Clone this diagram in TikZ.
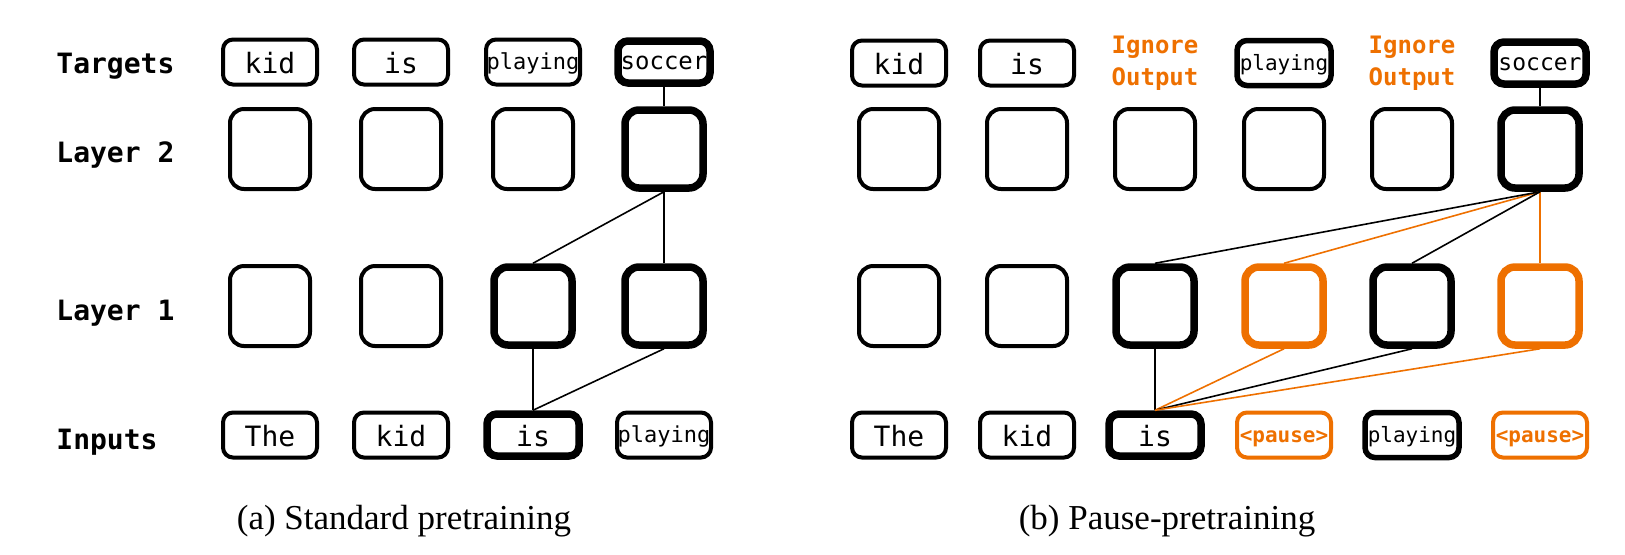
\documentclass[tikz,border=0pt]{standalone}
\usepackage{fontspec}
\setmainfont{Liberation Serif}
\setmonofont{DejaVu Sans Mono}
\usepackage{xcolor}
\usetikzlibrary{positioning}

\definecolor{pauseorange}{RGB}{238,112,0}
\newcommand{\tokbig}{\ttfamily\fontsize{14}{16}\selectfont}
\newcommand{\toksmall}{\ttfamily\fontsize{11}{13}\selectfont}
\newcommand{\toktiny}{\ttfamily\fontsize{10.5}{12}\selectfont}
\newcommand{\rowfont}{\ttfamily\bfseries\fontsize{14}{16}\selectfont}

\begin{document}
\begin{tikzpicture}[
    x=0.5pt, y=-0.5pt,
    base/.style={draw, line width=2pt, inner sep=0pt},
    token/.style={base, rounded corners=5pt, minimum width=47pt, minimum height=22.5pt,
                  font=\tokbig, text height=11pt, text depth=0pt},
    tokensm/.style={token, font=\toksmall, text height=7.5pt, text depth=0.5pt},
    tokenhl/.style={token, line width=3.75pt, minimum width=46pt, minimum height=21pt},
    cell/.style={base, rounded corners=7pt, minimum width=40pt, minimum height=40pt},
    cellhl/.style={cell, line width=3.75pt, minimum width=39pt, minimum height=39pt},
    pausecell/.style={cellhl, draw=pauseorange},
    pausetok/.style={token, draw=pauseorange, text=pauseorange,
                     font=\toktiny\bfseries, text height=7.5pt, text depth=0.5pt},
    ignore/.style={text=pauseorange, align=center, font=\ttfamily\bfseries\fontsize{12}{16}\selectfont},
    rowlabel/.style={anchor=base west, font=\rowfont, inner sep=0pt},
    caption/.style={anchor=base, font=\fontsize{17.5}{20}\selectfont, inner sep=0pt},
    link/.style={line width=0.8pt},
    pauselink/.style={link, draw=pauseorange}
]
    \useasboundingbox (0,0) rectangle (1625,554);

    % Row labels
    \node [rowlabel] (lbl-tgt) at (56,73) {Targets};
    \node [rowlabel] (lbl-l2) at (56,162) {Layer 2};
    \node [rowlabel] (lbl-l1) at (56,320) {Layer 1};
    \node [rowlabel] (lbl-in) at (56,449) {Inputs};

    % (a) Standard pretraining
    \node [token] (a-t1) at (270,62) {kid};
    \node [token] (a-t2) at (401,62) {is};
    \node [tokensm] (a-t3) at (533,62) {playing};
    \node [tokenhl, font=\ttfamily\fontsize{12}{14}\selectfont, text height=8pt, text depth=0.5pt] (a-t4) at (664,62) {soccer};

    \node [cell] (a-u1) at (270,149) {};
    \node [cell] (a-u2) at (401,149) {};
    \node [cell] (a-u3) at (533,149) {};
    \node [cellhl] (a-u4) at (664,149) {};

    \node [cell] (a-m1) at (270,306) {};
    \node [cell] (a-m2) at (401,306) {};
    \node [cellhl] (a-m3) at (533,306) {};
    \node [cellhl] (a-m4) at (664,306) {};

    \node [token] (a-i1) at (270,435) {The};
    \node [token] (a-i2) at (401,435) {kid};
    \node [tokenhl] (a-i3) at (533,435) {is};
    \node [tokensm] (a-i4) at (664,435) {playing};

    \draw [link] (a-t4.south) -- (a-u4.north);
    \draw [link] (a-u4.south) -- (a-m3.north);
    \draw [link] (a-u4.south) -- (a-m4.north);
    \draw [link] (a-m3.south) -- (a-i3.north);
    \draw [link] (a-m4.south) -- (a-i3.north);

    % (b) Pause-pretraining
    \node [token] (b-t1) at (899,63) {kid};
    \node [token] (b-t2) at (1027,63) {is};
    \node [ignore] (b-t3) at (1155,63) {Ignore\\Output};
    \node [tokensm, line width=2.75pt, font=\toktiny] (b-t4) at (1284,63) {playing};
    \node [ignore] (b-t5) at (1412,63) {Ignore\\Output};
    \node [tokenhl, font=\ttfamily\fontsize{11.5}{14}\selectfont, text height=8pt, text depth=0.5pt] (b-t6) at (1540,63) {soccer};

    \node [cell] (b-u1) at (899,149) {};
    \node [cell] (b-u2) at (1027,149) {};
    \node [cell] (b-u3) at (1155,149) {};
    \node [cell] (b-u4) at (1284,149) {};
    \node [cell] (b-u5) at (1412,149) {};
    \node [cellhl] (b-u6) at (1540,149) {};

    \node [cell] (b-m1) at (899,306) {};
    \node [cell] (b-m2) at (1027,306) {};
    \node [cellhl] (b-m3) at (1155,306) {};
    \node [pausecell] (b-m4) at (1284,306) {};
    \node [cellhl] (b-m5) at (1412,306) {};
    \node [pausecell] (b-m6) at (1540,306) {};

    \node [token] (b-i1) at (899,435) {The};
    \node [token] (b-i2) at (1027,435) {kid};
    \node [tokenhl] (b-i3) at (1155,435) {is};
    \node [pausetok] (b-i4) at (1284,435) {<pause>};
    \node [tokensm, line width=2.75pt, font=\toktiny] (b-i5) at (1412,435) {playing};
    \node [pausetok] (b-i6) at (1540,435) {<pause>};

    \draw [link] (b-t6.south) -- (b-u6.north);
    \draw [pauselink] (b-u6.south) -- (b-m4.north);
    \draw [pauselink] (b-u6.south) -- (b-m6.north);
    \draw [link] (b-u6.south) -- (b-m3.north);
    \draw [link] (b-u6.south) -- (b-m5.north);
    \draw [link] (b-m3.south) -- (b-i3.north);
    \draw [pauselink] (b-m4.south) -- (b-i3.north);
    \draw [link] (b-m5.south) -- (b-i3.north);
    \draw [pauselink] (b-m6.south) -- (b-i3.north);

    % Captions
    \node [caption] (cap-a) at (404,529) {(a) Standard pretraining};
    \node [caption] (cap-b) at (1167,529) {(b) Pause-pretraining};
\end{tikzpicture}
\end{document}
